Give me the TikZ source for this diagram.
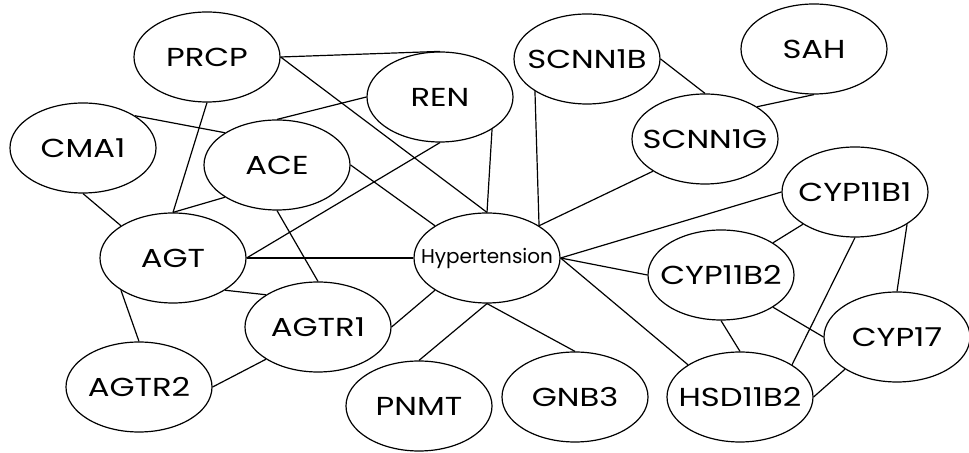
\documentclass[tikz,border=0pt]{standalone}
\usepackage{fontspec}
\setmainfont{Poppins}
\newfontfamily\genefont[FakeStretch=1.24]{Poppins}
\usetikzlibrary{shapes.geometric}
% label set in a zero-width box so every ellipse keeps the same size
\newcommand{\genelabel}[1]{\makebox[0pt]{#1}}
\begin{document}
\begin{tikzpicture}[x=0.5pt,y=-0.5pt,
  gene/.style={ellipse,draw,line width=0.6pt,minimum width=73pt,minimum height=45pt,
    inner sep=0pt,font=\genefont\fontsize{13}{14}\selectfont},
  hub/.style={gene,font=\rmfamily\fontsize{10}{11}\selectfont},
  link/.style={line width=0.6pt}]
\useasboundingbox (0,0) rectangle (969,453);
% gene nodes
\node[gene] (PRCP)    at (207,57)  {\genelabel{PRCP}};
\node[gene] (REN)     at (440,97)  {\genelabel{REN}};
\node[gene] (CMA1)    at (83,148)  {\genelabel{CMA1}};
\node[gene] (ACE)     at (277,165) {\genelabel{ACE}};
\node[gene] (AGT)     at (173,258) {\genelabel{AGT}};
\node[gene] (AGTR1)   at (318,327) {\genelabel{AGTR1}};
\node[gene] (AGTR2)   at (139,387) {\genelabel{AGTR2}};
\node[gene] (PNMT)    at (419,406) {\genelabel{PNMT}};
\node[hub]  (HYP)     at (487,258) {\genelabel{Hypertension}};
\node[gene] (GNB3)    at (575,397) {\genelabel{GNB3}};
\node[gene] (HSD11B2) at (740,397) {\genelabel{HSD11B2}};
\node[gene] (CYP11B2) at (721,275) {\genelabel{CYP11B2}};
\node[gene] (CYP17)   at (897,337) {\genelabel{CYP17}};
\node[gene] (CYP11B1) at (855,192) {\genelabel{CYP11B1}};
\node[gene] (SCNN1G)  at (705,139) {\genelabel{SCNN1G}};
\node[gene] (SCNN1B)  at (587,59)  {\genelabel{SCNN1B}};
\node[gene] (SAH)     at (814,49)  {\genelabel{SAH}};
% interactions
\draw[link] (PRCP.east) -- (REN.north);
\draw[link] (PRCP.east) -- (HYP.north);
\draw[link] (PRCP.south) -- (AGT.north);
\draw[link] (REN.west) -- (ACE.north);
\draw[link] (REN.south) -- (AGT.east);
\draw[link] (REN.south east) -- (HYP.north);
\draw[link] (CMA1.north east) -- (ACE.north west);
\draw[link] (CMA1.south) -- (AGT.north west);
\draw[link] (ACE.south west) -- (AGT.north);
\draw[link] (ACE.east) -- (HYP.north west);
\draw[link] (ACE.south) -- (AGTR1.north);
\draw[link] (AGT.east) -- (HYP.west);
\draw[link] (AGT.south east) -- (AGTR1.north west);
\draw[link] (AGT.south west) -- (AGTR2.north);
\draw[link] (AGTR1.south west) -- (AGTR2.east);
\draw[link] (AGTR1.east) -- (HYP.south west);
\draw[link] (HYP.south) -- (PNMT.north);
\draw[link] (HYP.south) -- (GNB3.north);
\draw[link] (HYP.east) -- (HSD11B2.north west);
\draw[link] (HYP.east) -- (CYP11B2.west);
\draw[link] (HYP.east) -- (CYP11B1.west);
\draw[link] (HYP.north east) -- (SCNN1G.south west);
\draw[link] (HYP.north east) -- (SCNN1B.south west);
\draw[link] (SCNN1B.east) -- (SCNN1G.north);
\draw[link] (SAH.south) -- (SCNN1G.north east);
\draw[link] (CYP11B1.south west) -- (CYP11B2.north east);
\draw[link] (CYP11B1.south) -- (HSD11B2.north east);
\draw[link] (CYP11B1.south east) -- (CYP17.north);
\draw[link] (CYP11B2.south) -- (HSD11B2.north);
\draw[link] (CYP11B2.south east) -- (CYP17.west);
\draw[link] (CYP17.south west) -- (HSD11B2.east);
\end{tikzpicture}
\end{document}
